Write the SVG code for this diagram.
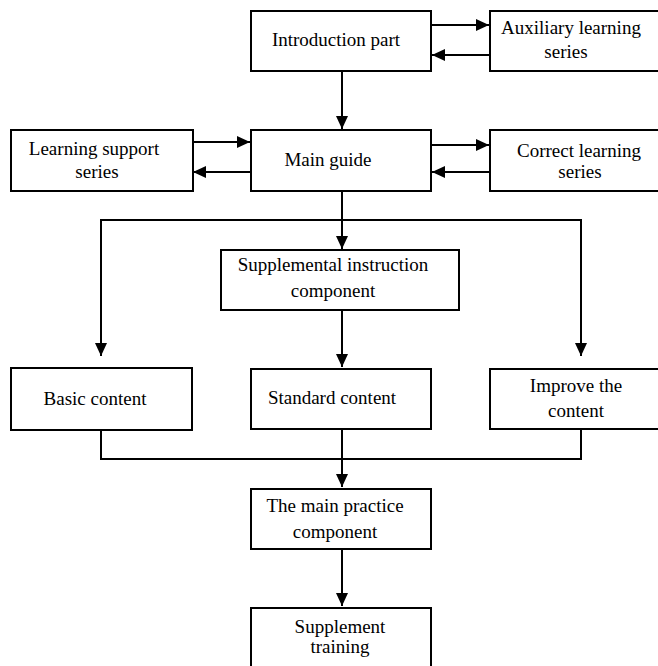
<svg xmlns="http://www.w3.org/2000/svg" width="658" height="666" viewBox="0 0 658 666">
<style>
.box{fill:#fff;stroke:#000;stroke-width:2}
.t{font-family:"Liberation Serif","Times New Roman",serif;font-size:19px;fill:#000;text-anchor:middle}
.c{fill:none;stroke:#000;stroke-width:2}
</style>
<defs>
<marker id="ah" viewBox="0 0 13 12" refX="13" refY="6" markerWidth="13" markerHeight="12" markerUnits="userSpaceOnUse" orient="auto">
<path d="M0,0 L13,6 L0,12 z" fill="#000"/>
</marker>
</defs>
<rect width="658" height="666" fill="#fff"/>
<g id="connectors">
<line class="c" x1="431" y1="25" x2="489" y2="25" marker-end="url(#ah)"/>
<line class="c" x1="490" y1="55" x2="432" y2="55" marker-end="url(#ah)"/>
<line class="c" x1="342" y1="71" x2="342" y2="129" marker-end="url(#ah)"/>
<line class="c" x1="193" y1="142" x2="250" y2="142" marker-end="url(#ah)"/>
<line class="c" x1="250" y1="172" x2="193" y2="172" marker-end="url(#ah)"/>
<line class="c" x1="431" y1="145" x2="489" y2="145" marker-end="url(#ah)"/>
<line class="c" x1="490" y1="172" x2="432" y2="172" marker-end="url(#ah)"/>
<line class="c" x1="342" y1="191" x2="342" y2="249" marker-end="url(#ah)"/>
<polyline class="c" points="342,220 101,220 101,356" marker-end="url(#ah)"/>
<polyline class="c" points="342,220 581,220 581,356" marker-end="url(#ah)"/>
<line class="c" x1="342" y1="310" x2="342" y2="367" marker-end="url(#ah)"/>
<polyline class="c" points="101,430 101,459 581,459 581,429"/>
<line class="c" x1="342" y1="429" x2="342" y2="487" marker-end="url(#ah)"/>
<line class="c" x1="342" y1="549" x2="342" y2="606" marker-end="url(#ah)"/>
</g>
<g id="intro"><rect class="box" x="251" y="11" width="180" height="60"/><text class="t" x="336" y="46">Introduction part</text></g>
<g id="auxiliary"><rect class="box" x="490" y="11" width="180" height="60"/><text class="t" x="571" y="34">Auxiliary learning</text><text class="t" x="566" y="58">series</text></g>
<g id="learning-support"><rect class="box" x="11" y="130" width="182" height="61"/><text class="t" x="94" y="155">Learning support</text><text class="t" x="97" y="178">series</text></g>
<g id="main-guide"><rect class="box" x="251" y="130" width="180" height="61"/><text class="t" x="328" y="166">Main guide</text></g>
<g id="correct-learning"><rect class="box" x="490" y="130" width="180" height="61"/><text class="t" x="579" y="157">Correct learning</text><text class="t" x="580" y="178">series</text></g>
<g id="supplemental"><rect class="box" x="221" y="250" width="238" height="60"/><text class="t" x="333" y="271">Supplemental instruction</text><text class="t" x="333" y="297">component</text></g>
<g id="basic"><rect class="box" x="11" y="368" width="181" height="62"/><text class="t" x="95" y="405">Basic content</text></g>
<g id="standard"><rect class="box" x="251" y="369" width="180" height="60"/><text class="t" x="332" y="404">Standard content</text></g>
<g id="improve"><rect class="box" x="490" y="369" width="180" height="60"/><text class="t" x="576" y="392">Improve the</text><text class="t" x="576" y="417">content</text></g>
<g id="practice"><rect class="box" x="251" y="489" width="180" height="60"/><text class="t" x="335" y="512">The main practice</text><text class="t" x="335" y="538">component</text></g>
<g id="supplement-training"><rect class="box" x="251" y="608" width="180" height="70"/><text class="t" x="340" y="633">Supplement</text><text class="t" x="340" y="653">training</text></g>
</svg>
